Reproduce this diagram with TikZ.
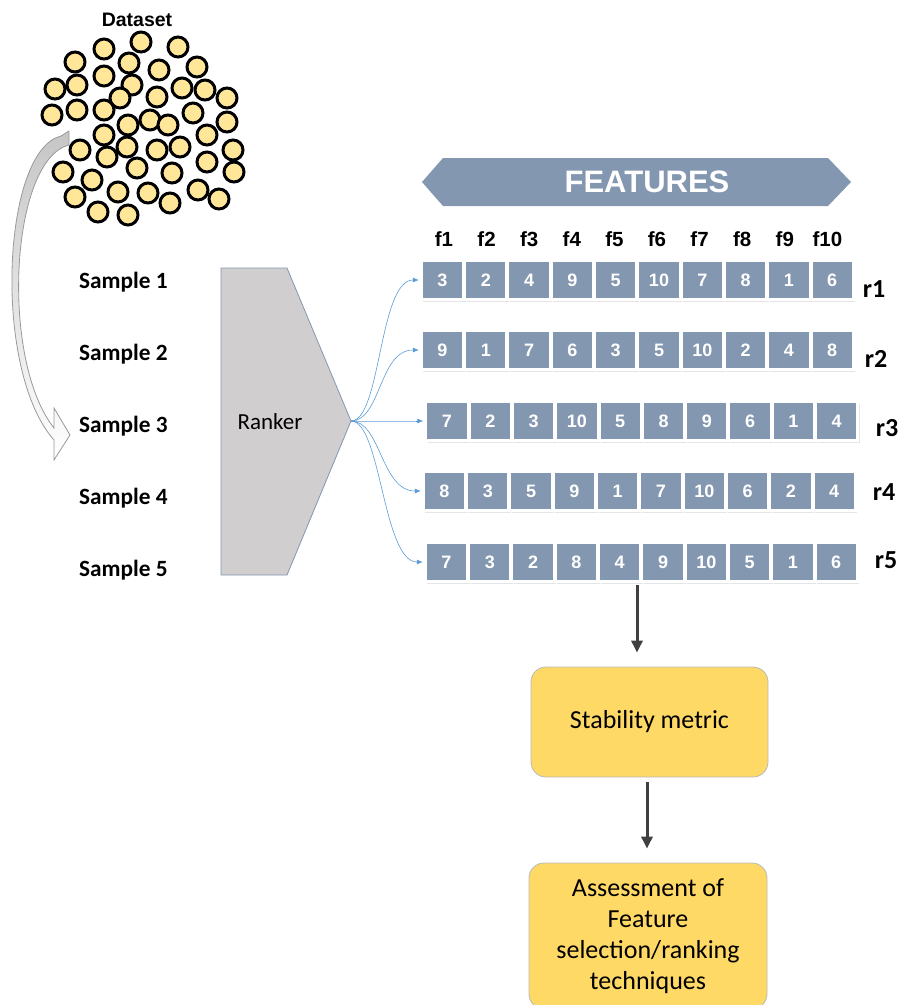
\documentclass[tikz,border=0pt]{standalone}
\usepackage{fontspec}
\setmainfont{Liberation Sans}
\newfontfamily\calibri{Carlito}
\usetikzlibrary{arrows.meta,positioning,shadows}

\definecolor{cellblue}{HTML}{8497B0}
\definecolor{rankgrey}{HTML}{D0CECE}
\definecolor{boxyellow}{HTML}{FFD966}
\definecolor{beadyellow}{HTML}{FFE699}
\definecolor{linkblue}{HTML}{5B9BD5}
\definecolor{darkarrow}{HTML}{404040}

\tikzset{
  bead/.style={circle, draw=black, line width=3pt, fill=beadyellow, minimum size=20pt, inner sep=0pt},
  cell/.style={draw=white, line width=3pt, fill=cellblue, minimum width=42.3pt, minimum height=39pt,
    inner sep=0pt, text=white, font=\bfseries\fontsize{18}{18}\selectfont,
    drop shadow={shadow xshift=2pt, shadow yshift=-2.6pt, fill=black!10, opacity=1}},
  samplelabel/.style={anchor=base west, inner sep=0pt, font=\calibri\bfseries\fontsize{23.3}{23.3}\selectfont},
  ranklabel/.style={anchor=base, inner sep=0pt, font=\calibri\bfseries\fontsize{26}{26}\selectfont},
  featlabel/.style={font=\bfseries\fontsize{20.5}{20.5}\selectfont},
  metricbox/.style={rounded corners=15pt, draw=gray!55, line width=0.8pt, fill=boxyellow,
    font=\calibri\fontsize{26}{31}\selectfont, align=center},
  link/.style={draw=linkblue, line width=0.6pt, -{Latex[length=6pt,width=5pt]}},
  flow/.style={draw=darkarrow, line width=3pt, -{Triangle[length=12pt,width=11pt]}}
}

\begin{document}
\begin{tikzpicture}[x=1pt,y=-1pt]
\path[use as bounding box, clip] (0,0) rectangle (902,1005);

% curved arrow from the dataset down to the samples
\shadedraw[top color=gray!45, bottom color=white, draw=gray!80, line width=0.8pt]
  (69,131) -- (69,145) .. controls (10,160) and (0,360) .. (54,428) -- (54,408) -- (70,435)
  -- (54,460) -- (54,440) .. controls (-8,370) and (2,150) .. (61,136) -- cycle;

% dataset
\node[font=\bfseries\fontsize{19.5}{19.5}\selectfont] (dataset) at (137,20) {Dataset};
\foreach \x/\y [count=\i] in {141/42,104/49,178/47,75/62,129/63,159/70,197/67,104/76,
    55/89,77/85,132/85,120/98,157/97,182/88,205/90,227/98,52/115,77/110,104/110,193/113,
    128/125,150/120,168/125,227/122,104/135,207/135,80/150,127/147,157/150,180/147,
    107/157,233/150,207/162,63/172,92/180,137/168,172/173,234/172,75/197,118/192,
    148/193,198/190,219/199,170/203,98/212,128/215}
  \node[bead] (b\i) at (\x,\y) {};

% samples
\foreach \s/\y in {1/288,2/360,3/432,4/504,5/576}
  \node[samplelabel] (s\s) at (79,\y) {Sample \s};

% ranker
\draw[fill=rankgrey, draw=cellblue, line width=0.8pt]
  (221,268) -- (287,268) -- (351,421) -- (287,575) -- (221,575) -- cycle;
\node[font=\calibri\fontsize{23}{23}\selectfont] (ranker) at (270,422) {Ranker};
\coordinate (tip) at (351,421);

% features banner
\fill[cellblue] (422,182) -- (443,158) -- (828,158) -- (851,182) -- (828,206) -- (443,206) -- cycle;
\node[text=white, font=\bfseries\fontsize{31}{31}\selectfont] (features) at (647,182) {FEATURES};
\foreach \j in {1,...,10}
  \node[featlabel] (f\j) at ({444+42.6*(\j-1)},239.5) {f\j};

% rankings
\foreach \row/\x/\y/\vals in {1/442.5/280/{3,2,4,9,5,10,7,8,1,6},
    2/442.5/350/{9,1,7,6,3,5,10,2,4,8},
    3/447/421/{7,2,3,10,5,8,9,6,1,4},
    4/444.5/491/{8,3,5,9,1,7,10,6,2,4},
    5/446.5/562/{7,3,2,8,4,9,10,5,1,6}}
  \foreach \v [count=\j] in \vals
    \node[cell] (c\row-\j) at ({\x+43.3*(\j-1)},\y) {\v};
\foreach \row/\x/\y in {1/874/297,2/876/367,3/887/436,4/884/500,5/886/568}
  \node[ranklabel] (r\row) at (\x,\y) {r\row};

\foreach \row in {1,...,5}
  \draw[link] (tip) .. controls +(30,0) and +(-40,0) .. ([xshift=-1pt]c\row-1.west);

% stability and assessment
\node[metricbox, minimum width=237pt, minimum height=110pt] (stab) at (649.5,722) {Stability metric};
\node[metricbox, minimum width=238pt, minimum height=146pt] (assess) at (648,936)
  {Assessment of\\Feature\\selection/ranking\\techniques};

\coordinate (m0) at (637,585);
\coordinate (m1) at (647,0);
\draw[flow, shorten >=14pt] (m0) -- (m0 |- stab.north);
\draw[flow, shorten <=5pt, shorten >=14pt] (stab.south -| m1) -- (assess.north -| m1);
\end{tikzpicture}
\end{document}
